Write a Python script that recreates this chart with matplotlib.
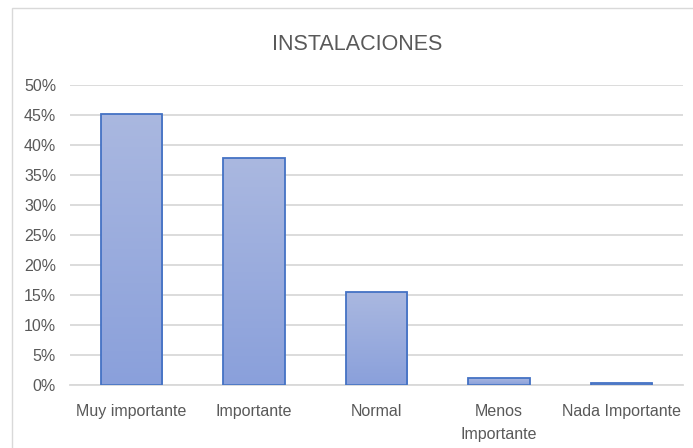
import numpy as np
import matplotlib
matplotlib.use("Agg")
from matplotlib import pyplot as plt
from matplotlib.colors import LinearSegmentedColormap
from matplotlib.patches import Rectangle

categories = ["Muy importante", "Importante", "Normal", "Menos\nImportante", "Nada Importante"]
values = [45.2, 37.8, 15.5, 1.2, 0.4]
yticks = [0, 5, 10, 15, 20, 25, 30, 35, 40, 45, 50]

plt.rcParams['font.family'] = ['Liberation Sans', 'DejaVu Sans']
grey = '#595959'

fig = plt.figure(figsize=(6.93, 4.48), dpi=100)
# chart frame (right and bottom edges run off the canvas)
fig.patches.append(Rectangle((12/693, -0.1), 1.0, 440/448 + 0.1, transform=fig.transFigure,
                             fill=False, edgecolor='#d9d9d9', linewidth=1.0))

ax = fig.add_axes([70/693, 63/448, 613/693, 300/448])
x = np.arange(len(categories))
bars = ax.bar(x, values, width=0.5, color='none', edgecolor='#4472c4', linewidth=1.3, zorder=3)

# vertical gradient fill for each bar
cmap = LinearSegmentedColormap.from_list('grad', ['#8aa0db', '#aab8e0'])
grad = np.linspace(0, 1, 256).reshape(-1, 1)
for b in bars:
    x0, w, h = b.get_x(), b.get_width(), b.get_height()
    im = ax.imshow(grad, cmap=cmap, origin='lower', aspect='auto',
                   extent=[x0, x0 + w, 0, h], zorder=2)
    clip = Rectangle((x0, 0), w, h, transform=ax.transData)
    im.set_clip_path(clip)

ax.set_xlim(-0.5, len(categories) - 0.5)
ax.set_ylim(0, 50)
ax.set_yticks(yticks)
ax.set_yticklabels([f"{t}%" for t in yticks])
ax.set_xticks(x)
ax.set_xticklabels(categories, linespacing=1.65)
ax.yaxis.grid(True, color='#d9d9d9', linewidth=1.3, zorder=0)
for s in ['top', 'right', 'left']:
    ax.spines[s].set_visible(False)
ax.spines['bottom'].set_color('#d9d9d9')
ax.spines['bottom'].set_linewidth(1.3)
ax.tick_params(axis='both', length=0, colors=grey, labelsize=11.5)
ax.tick_params(axis='y', pad=10)
ax.tick_params(axis='x', pad=13.5)
ax.set_axisbelow(True)

fig.text(357/693, 1 - 45/448, "INSTALACIONES", ha='center', va='center',
         fontsize=15.5, color=grey)

fig.savefig("out.png", dpi=100)
